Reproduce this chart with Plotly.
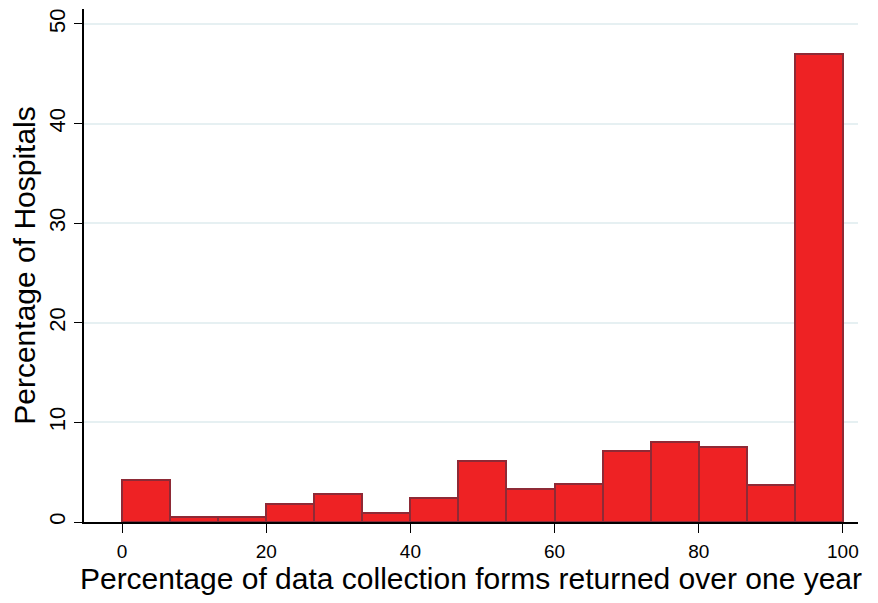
import plotly.graph_objects as go

bin_edges = [i * 100 / 15 for i in range(16)]
percent_hospitals = [4.2, 0.47, 0.47, 1.84, 2.8, 0.9, 2.38, 6.15, 3.3, 3.78, 7.1, 8.03, 7.56, 3.75, 47.0]
x_ticks = [0, 20, 40, 60, 80, 100]
y_ticks = [0, 10, 20, 30, 40, 50]

centers = [(bin_edges[i] + bin_edges[i + 1]) / 2 for i in range(len(percent_hospitals))]
width = bin_edges[1] - bin_edges[0]

fig = go.Figure(go.Bar(
    x=centers, y=percent_hospitals, width=width,
    marker=dict(color="#EE2224", line=dict(color="#8E2A36", width=2)),
))

font = "Liberation Sans, Arial, sans-serif"
# page body has an 8px default margin; size/margins compensate for it
fig.update_layout(
    width=870, height=595,
    margin=dict(l=76, r=20, t=1, b=81),
    paper_bgcolor="white", plot_bgcolor="white",
    showlegend=False,
    font=dict(family=font, color="black"),
    bargap=0,
)
fig.update_xaxes(
    range=[-5.28, 102.1], tickvals=x_ticks, ticks="outside", ticklen=9, tickwidth=1.3,
    tickcolor="black", showline=True, linecolor="black", linewidth=1.5,
    showgrid=False, zeroline=False, tickfont=dict(size=19), automargin=False,
    ticklabelstandoff=2,
    title=dict(text="Percentage of data collection forms returned over one year", font=dict(size=30), standoff=2),
)
fig.update_yaxes(
    range=[0, 51.5], tickvals=y_ticks, ticks="outside", ticklen=8, tickwidth=1.3,
    tickcolor="black", showline=True, linecolor="black", linewidth=1.5,
    showgrid=True, gridcolor="#E6F0F2", gridwidth=1.5, zeroline=False,
    tickangle=-90, tickfont=dict(size=22), automargin=False,
    title=dict(text="Percentage of Hospitals", font=dict(size=30), standoff=4),
)
fig.write_html("out.html")
